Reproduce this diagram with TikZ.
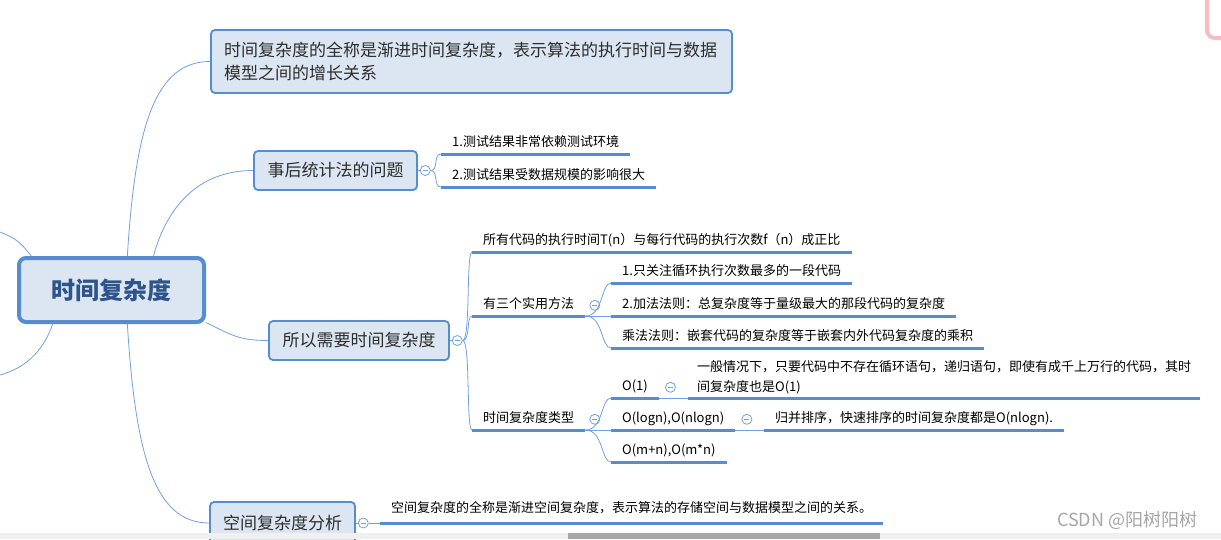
\documentclass[tikz,border=0pt]{standalone}
\usepackage{fontspec}
\setmainfont{Noto Sans CJK SC}
\usepackage{tikz}
\usetikzlibrary{positioning,calc}
\definecolor{mapblue}{RGB}{85,140,210}
\definecolor{mapfill}{RGB}{220,230,242}
\definecolor{linkblue}{RGB}{115,160,222}
\definecolor{roottext}{RGB}{45,85,140}
\definecolor{boxtext}{RGB}{45,45,45}
\definecolor{cornerpink}{RGB}{246,188,192}
\newcommand{\gap}{11pt}

\begin{document}
\begin{tikzpicture}[x=1pt,y=-1pt,
  root/.style={draw=mapblue,line width=4pt,fill=mapfill,rounded corners=7pt,
    minimum width=185pt,minimum height=64pt,text=roottext,
    font=\fontsize{24}{24}\selectfont\bfseries},
  topic/.style={draw=mapblue,line width=1.8pt,fill=mapfill,rounded corners=4pt,
    inner xsep=13pt,text=boxtext,font=\fontsize{17}{23}\selectfont},
  leafbase/.style={anchor=south west,inner xsep=\gap,inner ysep=4pt,
    font=\fontsize{13}{20}\selectfont},
  leaf/.style={leafbase,text height=10pt,text depth=3pt},
  uline/.style={mapblue,line width=3pt},
  link/.style={linkblue,line width=0.8pt},
  fold/.style={circle,draw=linkblue,line width=0.8pt,fill=white,
    minimum size=10pt,inner sep=0pt,
    path picture={\draw[linkblue,line width=0.8pt]
      ($(path picture bounding box.west)+(2.5,0)$) --
      ($(path picture bounding box.east)+(-2.5,0)$);}}]
\useasboundingbox (0,0) rectangle (1221,539);
\fill[white] (0,0) rectangle (1221,539);

\node[root] (root) at (111.5,290) {时间复杂度};
\node[topic,text width=495pt,align=left,minimum width=521pt,minimum height=63pt]
  (full) at (471.5,61.5)
  {时间复杂度的全称是渐进时间复杂度，表示算法的执行时间与数据\\模型之间的增长关系};
\node[topic,minimum width=163pt,minimum height=39pt] (stat) at (335.5,170.5) {事后统计法的问题};
\node[topic,minimum width=180pt,minimum height=39pt] (need) at (359,340.5) {所以需要时间复杂度};
\node[topic,minimum width=145pt,minimum height=42pt] (space) at (282.5,523) {空间复杂度分析};

\coordinate (offup) at (0,232);
\coordinate (offdown) at (0,375);
\draw[link] (root.157) .. controls +(-12,-15) and +(15,6) .. (offup);
\draw[link] (root.210) .. controls +(-10,30) and +(22,-6) .. (offdown);
\draw[link] (root.65) .. controls +(8,-130) and +(-55,0) .. (full.west);
\draw[link] (root.39) .. controls +(15,-55) and +(-50,0) .. (stat.west);
\draw[link] (root.-19) .. controls +(25,12) and +(-30,0) .. (need.west);
\draw[link] (root.-65) .. controls +(8,130) and +(-55,0) .. (space.west);

\node[leaf] (test1) at (441,154) {1.测试结果非常依赖测试环境};
\node[leaf] (test2) at (441,187) {2.测试结果受数据规模的影响很大};
\node[leaf] (all) at (472,252) {所有代码的执行时间T(n）与每行代码的执行次数f（n）成正比};
\node[leaf] (three) at (472,316) {有三个实用方法};
\node[leaf] (kind) at (472,430) {时间复杂度类型};
\node[leaf] (rule1) at (611,283) {1.只关注循环执行次数最多的一段代码};
\node[leaf] (rule2) at (611,316) {2.加法法则：总复杂度等于量级最大的那段代码的复杂度};
\node[leaf] (rule3) at (611,348) {乘法法则：嵌套代码的复杂度等于嵌套内外代码复杂度的乘积};
\node[leaf] (o1) at (611,398) {O(1)};
\node[leaf] (olog) at (611,430) {O(logn),O(nlogn)};
\node[leaf] (omn) at (611,462) {O(m+n),O(m*n)};
\node[leafbase,align=left,inner xsep=9pt] (o1note) at (688,398)
  {一般情况下，只要代码中不存在循环语句，递归语句，即使有成千上万行的代码，其时\\间复杂度也是O(1)};
\node[leaf] (olognote) at (764,430) {归并排序，快速排序的时间复杂度都是O(nlogn).};
\node[leaf,inner ysep=7pt] (spacenote) at (380,523) {空间复杂度的全称是渐进空间复杂度，表示算法的存储空间与数据模型之间的关系。};

\foreach \n in {test1,test2,all,three,kind,rule1,rule2,rule3,o1,olog,omn,o1note,olognote,spacenote}
  \draw[uline] (\n.south west) -- (\n.south east);

\node[fold,right=2pt of stat] (fstat) {};
\node[fold,right=2pt of need] (fneed) {};
\node[fold,right=2pt of space] (fspace) {};
\node[fold,right=4pt of three] (fthree) {};
\node[fold,right=4pt of kind] (fkind) {};
\node[fold,right=6pt of o1] (fo1) {};
\node[fold,right=6pt of olog] (folog) {};

\draw[link] (stat) -- (fstat);
\draw[link] (need) -- (fneed);
\draw[link] (space) -- (fspace);
\draw[link] (fstat.east) .. controls +(8,0) and +(-8,0) .. (test1.south west);
\draw[link] (fstat.east) .. controls +(8,0) and +(-8,0) .. (test2.south west);
\draw[link] (fneed.east) .. controls +(8,0) and +(-6,0) .. (all.south west);
\draw[link] (fneed.east) .. controls +(8,0) and +(-6,0) .. (three.south west);
\draw[link] (fneed.east) .. controls +(8,0) and +(-6,0) .. (kind.south west);
\draw[link] (three.south east) .. controls +(18,0) and +(-10,0) .. (rule1.south west);
\draw[link] (three.south east) -- (rule2.south west);
\draw[link] (three.south east) .. controls +(18,0) and +(-10,0) .. (rule3.south west);
\draw[link] (kind.south east) .. controls +(18,0) and +(-10,0) .. (o1.south west);
\draw[link] (kind.south east) -- (olog.south west);
\draw[link] (kind.south east) .. controls +(18,0) and +(-10,0) .. (omn.south west);
\draw[link] (o1.south east) -- (o1note.south west);
\draw[link] (olog.south east) -- (olognote.south west);
\draw[link] (fspace) -- (spacenote.south west);

\node[anchor=west,inner sep=0pt,text=black!35,font=\fontsize{18}{18}\selectfont] (mark) at (1057,520) {CSDN @阳树阳树};
\draw[cornerpink,line width=4pt,rounded corners=8pt] (1207,-10) -- (1207,38) -- (1230,38);
\fill[black!6] (0,533) rectangle (1221,539);
\fill[black!34] (568,533) rectangle (880,539);
\end{tikzpicture}
\end{document}
